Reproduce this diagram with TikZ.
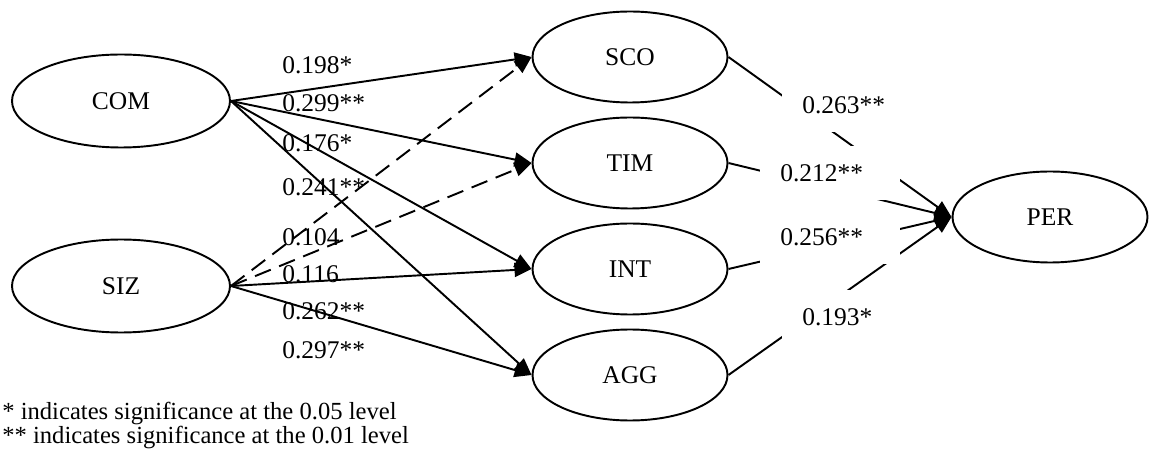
\documentclass[tikz,border=0pt]{standalone}
\usepackage{fontspec}
\setmainfont{Liberation Serif}
\usetikzlibrary{shapes.geometric, arrows.meta, positioning}

\begin{document}
\begin{tikzpicture}[>={Triangle[length=0.34cm, width=0.28cm]}, font=\fontsize{14.5}{17}\selectfont]
    \tikzset{latent/.style={draw, ellipse, line width=1.1pt, inner sep=0pt, minimum width=3.9cm, minimum height=1.82cm},
        source/.style={latent, minimum width=4.36cm, minimum height=1.86cm},
        link/.style={line width=1.1pt},
        coef/.style={anchor=west, inner sep=0pt},
        gapcoef/.style={anchor=west, fill=white, inner xsep=0.4cm, inner ysep=0pt, minimum height=1.08cm, text width=2.0cm, align=left},
        note/.style={anchor=west, inner sep=0pt, font=\fontsize{14}{17}\selectfont}
    }
    \useasboundingbox (0,0) rectangle (22.98,9.12);

    \node (COM) [source] at (2.42, 7.10) {COM};
    \node (SIZ) [source] at (2.42, 3.40) {SIZ};
    \foreach \n / \y in {SCO/7.98, TIM/5.86, INT/3.74, AGG/1.62} {
        \node (\n) [latent] at (12.6, \y) {\n};
    }
    \node (PER) [latent] at (21.0, 4.78) {PER};

    % paths into the mediators
    \foreach \t in {SCO, TIM, INT, AGG} {
        \draw [link, ->] (COM.east) -- (\t.west);
    }
    \draw [link, ->, dash pattern=on 0.34cm off 0.18cm] (SIZ.east) -- (SCO.west);
    \draw [link, ->, dash pattern=on 0.34cm off 0.18cm] (SIZ.east) -- (TIM.west);
    \draw [link, ->] (SIZ.east) -- (INT.west);
    \draw [link, ->] (SIZ.east) -- (AGG.west);

    % paths into PER
    \foreach \t in {SCO, TIM, INT, AGG} {
        \draw [link, ->] (\t.east) -- (PER.west);
    }

    \foreach \i / \y / \v in {1/7.82/0.198*, 2/7.06/0.299**, 3/6.26/0.176*, 4/5.38/0.241**,
        5/4.38/0.104, 6/3.64/0.116, 7/2.90/0.262**, 8/2.12/0.297**} {
        \node (C\i) [coef] at (5.64, \y) {\v};
    }

    \node (P1) [gapcoef] at (15.64, 7.02) {0.263**};
    \node (P2) [gapcoef] at (15.20, 5.66) {0.212**};
    \node (P3) [gapcoef] at (15.20, 4.38) {0.256**};
    \node (P4) [gapcoef] at (15.64, 2.78) {0.193*};

    \node (N1) [note] at (0.04, 0.86) {* indicates significance at the 0.05 level};
    \node (N2) [note] at (0.04, 0.38) {** indicates significance at the 0.01 level};
\end{tikzpicture}
\end{document}
